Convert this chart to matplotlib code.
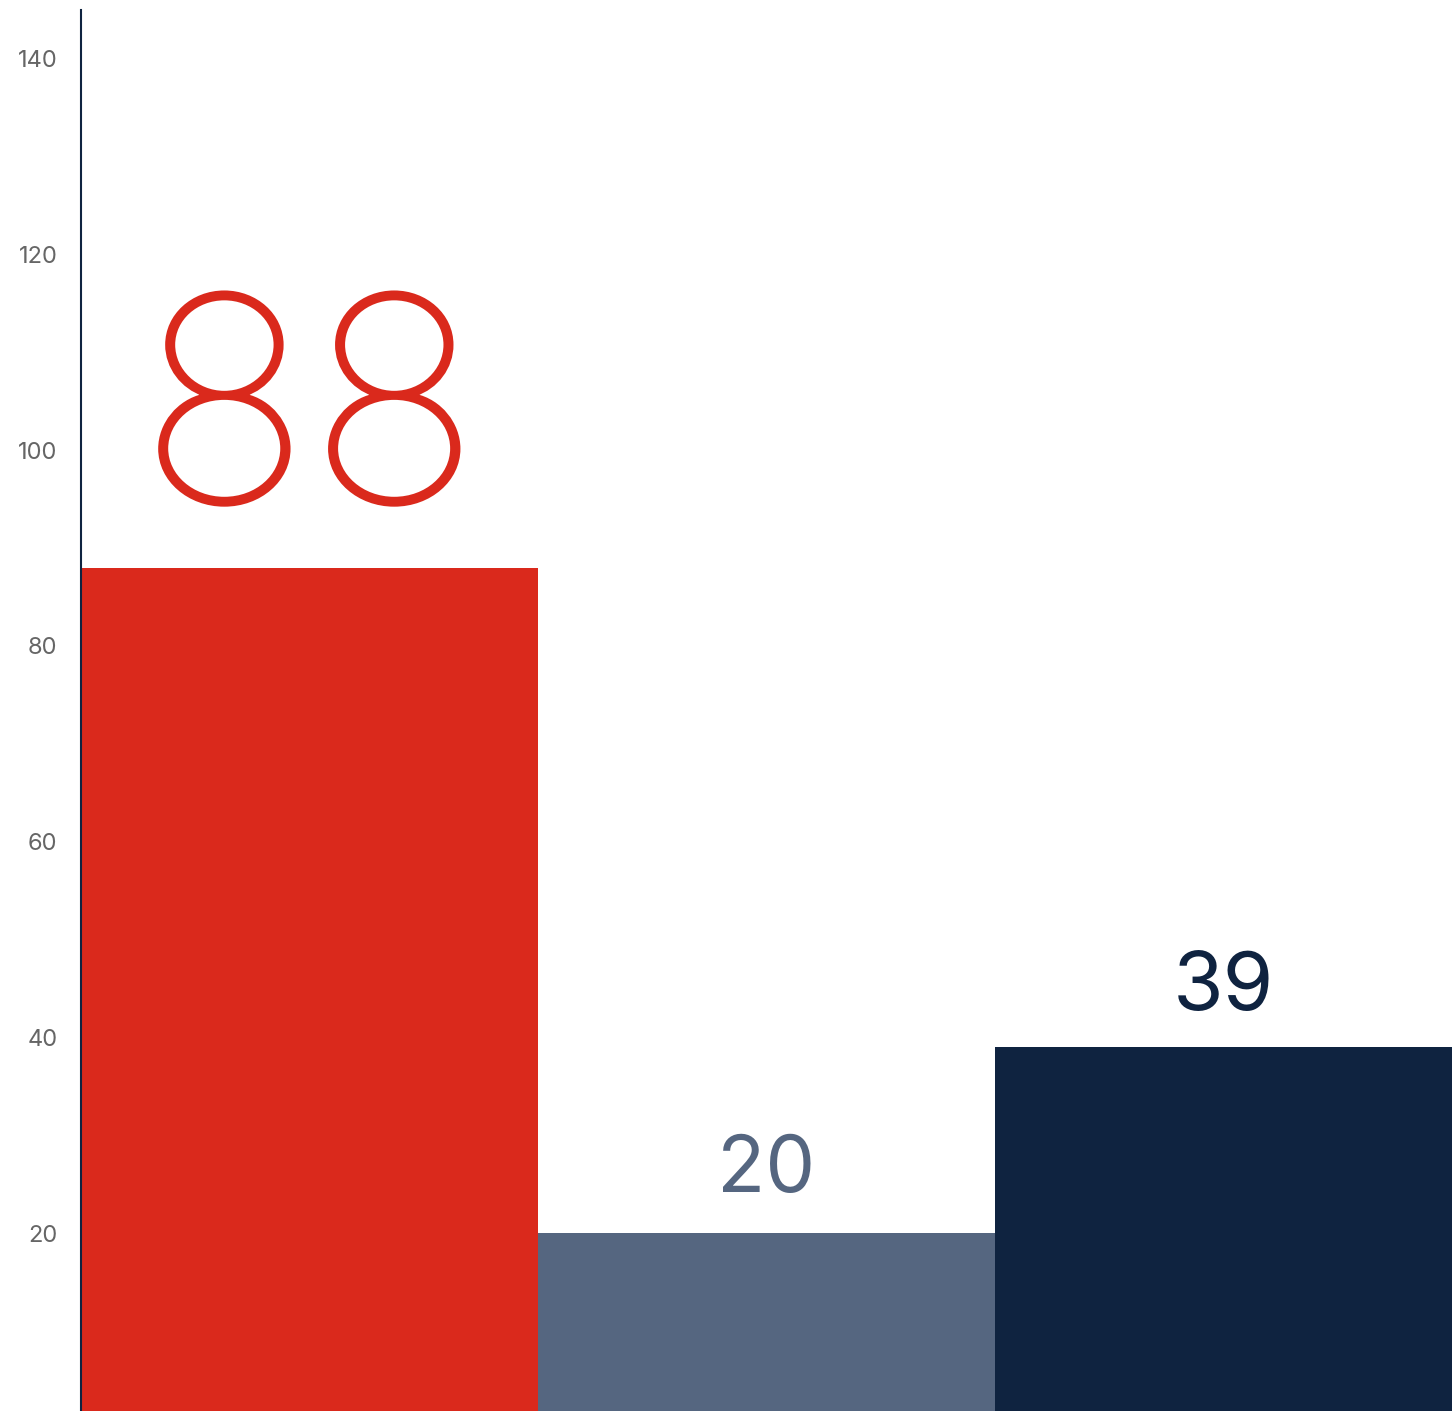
import matplotlib
matplotlib.use("Agg")
import matplotlib.pyplot as plt
import matplotlib.patheffects as pe

categories = ["A", "B", "C"]
values = [88, 20, 39]
colors = ["#DA291C", "#556680", "#0F2340"]
label_sizes = [205, 57, 59]
label_weights = [100, 400, 400]
label_offsets = [6.7, 4.2, 3.8]
yticks = [20, 40, 60, 80, 100, 120, 140]

W, H = 1452, 1411
fig = plt.figure(figsize=(W / 100, H / 100), dpi=100)
top_px = 10
zero_px = 1428.7
ax = fig.add_axes([81 / W, (H - zero_px) / H, 1 - 81 / W, (zero_px - top_px) / H])
ax.set_ylim(0, 145)
ax.set_xlim(-0.5, 2.5)

x = list(range(len(categories)))
ax.bar(x, values, width=1.0, color=colors, edgecolor="none")

for xi, v, c, fs, fw, off in zip(x, values, colors, label_sizes, label_weights, label_offsets):
    t = ax.text(xi, v + off, str(v), ha="center", va="baseline", fontsize=fs,
                family="Inter", fontweight=fw, color=c)
    if fw < 300:
        t.set_path_effects([pe.withStroke(linewidth=2.5, foreground=c)])

ax.set_yticks(yticks)
ax.set_yticklabels([str(t) for t in yticks], family="Inter", fontsize=17, color="#666666")
ax.tick_params(axis="y", length=0, pad=17)
ax.set_xticks([])
for s in ["top", "right", "bottom"]:
    ax.spines[s].set_visible(False)
ax.spines["left"].set_color("#0F2340")
ax.spines["left"].set_linewidth(1.5)

fig.savefig("out.png", dpi=100)
